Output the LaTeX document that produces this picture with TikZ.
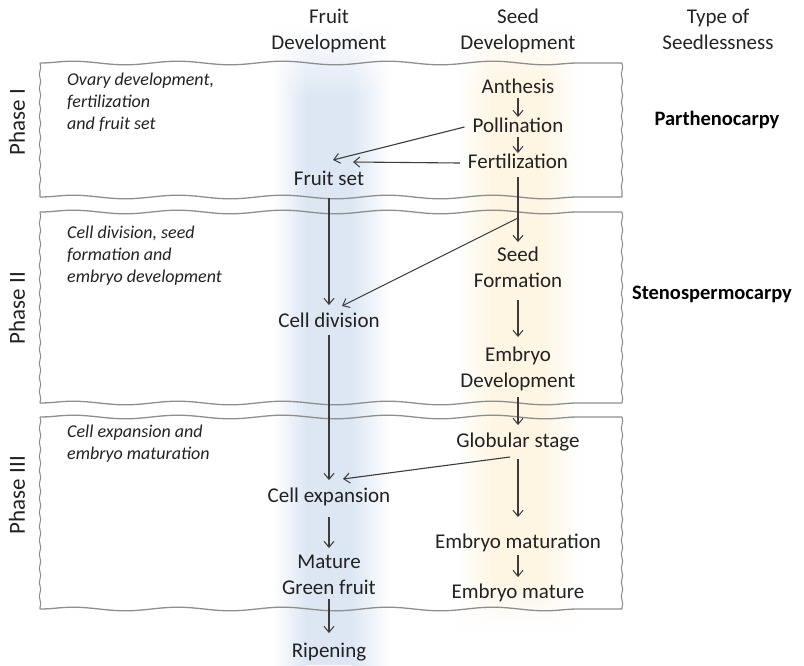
\documentclass[tikz,border=0pt]{standalone}
\usepackage{fontspec}
\setmainfont{Carlito}
\usetikzlibrary{arrows.meta,decorations.pathmorphing,fadings}
\definecolor{txt}{HTML}{222222}
\definecolor{bandblue}{HTML}{DDE7F4}
\definecolor{bandyellow}{HTML}{FEF5E3}
\definecolor{boxgray}{HTML}{8E8E8E}
\definecolor{arr}{HTML}{3C3C3C}
\tikzfading[name=topcap, top color=transparent!0, bottom color=transparent!100]
\tikzfading[name=botcap, top color=transparent!100, bottom color=transparent!0]
\tikzset{
  lbl/.style={text=txt, inner xsep=8pt, inner ysep=0pt, align=center,
    font=\fontsize{21}{26}\selectfont, text height=15pt, text depth=4.5pt},
  lbltwo/.style={text=txt, inner xsep=8pt, inner ysep=0pt, align=center, anchor=north,
    font=\fontsize{21}{26}\selectfont, text depth=4.5pt},
  hdr/.style={text=txt, inner sep=0pt, align=center, anchor=north, font=\fontsize{21}{26}\selectfont},
  desc/.style={text=txt, inner sep=0pt, align=left, anchor=north west,
    font=\fontsize{18}{22}\selectfont\itshape},
  phase/.style={text=txt, inner sep=0pt, rotate=90, font=\fontsize{23}{27}\selectfont},
  seedtype/.style={text=black, inner sep=0pt, font=\fontsize{20.5}{24}\selectfont\bfseries},
  flow/.style={draw=arr, line width=1.1pt, -{Straight Barb[length=6pt,width=10pt,line width=1pt]}},
  edgeh/.style={draw=boxgray, line width=1.3pt, decorate,
    decoration={snake, segment length=105pt, amplitude=1.8pt}},
  edgev/.style={draw=boxgray, line width=1.1pt, decorate,
    decoration={snake, segment length=14pt, amplitude=0.7pt}},
}
\begin{document}
\begin{tikzpicture}[x=1pt,y=-1pt]
\useasboundingbox (0,0) rectangle (804,665);
% background bands (ramp - plateau - ramp)
\shade[left color=white, right color=bandblue] (272,30) rectangle (306,665);
\fill[bandblue] (305.5,30) rectangle (352.5,665);
\shade[left color=bandblue, right color=white] (352,30) rectangle (390,665);
\fill[white, path fading=topcap] (268,28) rectangle (394,95);
\shade[left color=white, right color=bandyellow] (456,30) rectangle (494,625);
\fill[bandyellow] (493.5,30) rectangle (542.5,625);
\shade[left color=bandyellow, right color=white] (542,30) rectangle (580,625);
\fill[white, path fading=topcap] (452,28) rectangle (584,85);
\fill[white, path fading=botcap] (452,580) rectangle (584,627);
% phase boxes
\foreach \t/\b in {63/197, 212/403, 417/609}{
  \draw[edgeh] (40,\t) -- (622,\t);
  \draw[edgeh] (40,\b) -- (622,\b);
  \draw[edgev] (40,\t) -- (40,\b);
  \draw[edgev] (622,\t) -- (622,\b);
}
% headers
\node[hdr] (hfruit) at (329,9) {Fruit\\Development};
\node[hdr] (hseed) at (518,9) {Seed\\Development};
\node[hdr] (htype) at (718,9) {Type of\\Seedlessness};
% phase labels
\node[phase] (p1) at (17,122) {Phase I};
\node[phase] (p2) at (17,308) {Phase II};
\node[phase] (p3) at (17,495) {Phase III};
% descriptions
\node[desc] (d1) at (67,73) {Ovary development,\\fertilization\\and fruit set};
\node[desc] (d2) at (67,226) {Cell division, seed\\formation and\\embryo development};
\node[desc] (d3) at (67,425) {Cell expansion and\\embryo maturation};
% seedlessness types
\node[seedtype] (parth) at (717,120) {Parthenocarpy};
\node[seedtype] (steno) at (712,294) {Stenospermocarpy};
% seed development column
\node[lbl] (anth) at (518,88) {Anthesis};
\node[lbl] (poll) at (518,127) {Pollination};
\node[lbl] (fert) at (518,163) {Fertilization};
\node[lbltwo] (seedf) at (518,247) {Seed\\Formation};
\node[lbltwo] (embdev) at (518,347) {Embryo\\Development};
\node[lbl] (glob) at (518,442) {Globular stage};
\node[lbl] (embmat) at (518,543) {Embryo maturation};
\node[lbl] (embm) at (518,593) {Embryo mature};
% fruit development column
\node[lbl] (fset) at (329,180) {Fruit set};
\node[lbl] (cdiv) at (329,322) {Cell division};
\node[lbl] (cexp) at (329,497) {Cell expansion};
\node[lbltwo] (mgf) at (329,555) {Mature\\Green fruit};
\node[lbl] (ripe) at (329,652) {Ripening};
% arrow target / branch coordinates
\coordinate (fsA) at (333,160);
\coordinate (fsB) at (353,162);
\coordinate (branch) at (518,218);
\coordinate (cdA) at (342,306);
\coordinate (globout) at (510,457);
\coordinate (ceA) at (343,479);
% connectors
\draw[flow] (anth.south) -- (poll.north);
\draw[flow] (poll.south) -- (fert.north);
\draw[flow] (poll.west) -- (fsA);
\draw[flow] (fert.west) -- (fsB);
\draw[flow, shorten <=8pt, shorten >=7pt] (fset.south) -- (cdiv.north);
\draw[flow, shorten <=4pt, shorten >=5pt] (fert.south) -- (seedf.north);
\draw[flow] (branch) -- (cdA);
\draw[flow, shorten <=8pt, shorten >=10pt] (seedf.south) -- (embdev.north);
\draw[flow, shorten <=5pt, shorten >=7pt] (embdev.south) -- (glob.north);
\draw[flow, shorten <=3pt, shorten >=7pt] (cdiv.south) -- (cexp.north);
\draw[flow] (globout) -- (ceA);
\draw[flow, shorten <=7pt, shorten >=16pt] (glob.south) -- (embmat.north);
\draw[flow, shorten <=2pt, shorten >=6pt] (embmat.south) -- (embm.north);
\draw[flow, shorten <=10pt, shorten >=7pt] (cexp.south) -- (mgf.north);
\draw[flow, shorten >=9pt] (mgf.south) -- (ripe.north);
\end{tikzpicture}
\end{document}
